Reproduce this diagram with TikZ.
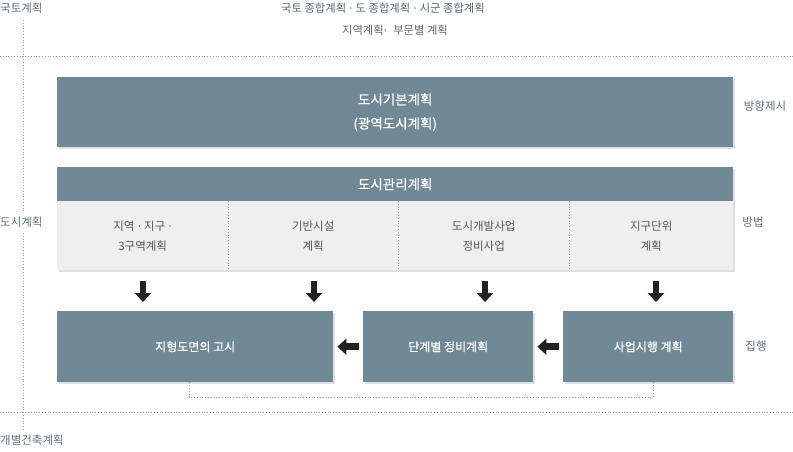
\documentclass[tikz,border=0pt]{standalone}
\usepackage{fontspec}
\setmainfont{Noto Sans CJK KR}
\newfontfamily\boxfont[FakeBold=0.6]{Noto Sans CJK KR}
\newfontfamily\dotfont{DejaVu Sans}
\usetikzlibrary{arrows.meta}
\definecolor{slate}{HTML}{718997}
\definecolor{cellbg}{HTML}{EFEFEF}
\definecolor{labelc}{HTML}{5C7080}
\definecolor{topc}{HTML}{5A6670}
\definecolor{celltext}{HTML}{555555}
\definecolor{dotc}{HTML}{9A9A9A}
\definecolor{arrowc}{HTML}{222222}
\tikzset{
  box/.style={fill=slate, text=white, inner sep=0pt, anchor=north west, align=center, font=\boxfont\fontsize{12}{24}\selectfont},
  bigbox/.style={box, font=\boxfont\fontsize{13.5}{24}\selectfont},
  cell/.style={fill=cellbg, text=celltext, inner sep=0pt, anchor=north west, align=center, minimum height=69pt, font=\fontsize{11.5}{20}\selectfont},
  sidelabel/.style={text=labelc, inner sep=0pt, font=\fontsize{11.5}{14}\selectfont},
  toptext/.style={text=topc, inner sep=0pt, font=\fontsize{11.3}{14}\selectfont},
  dotline/.style={draw=dotc, dotted, line width=0.8pt},
  shadowbox/.style={fill=black!12},
  blockarrow/.style={draw=arrowc, line width=6.5pt, -{Triangle[width=16pt,length=9pt]}},
}
\newcommand\mdot{\hspace{3pt}{\dotfont ·}\hspace{3pt}}
\begin{document}
\begin{tikzpicture}[x=1pt,y=-1pt]
\useasboundingbox (0,0) rectangle (793,451);
% labels left
\node[sidelabel, anchor=west] (kukto) at (0,8) {국토계획};
\node[sidelabel, anchor=west] (dosi) at (0,222) {도시계획};
\node[sidelabel, anchor=west] (gaebyeol) at (0,440) {개별건축계획};
% top texts
\node[toptext] (top1) at (383,8) {국토 종합계획\mdot 도 종합계획\mdot 시군 종합계획};
\node[toptext] (top2) at (395,30) {지역계획{\dotfont ·}\hspace{6pt}부문별 계획};
% dotted lines
\draw[dotline] (0,56) -- (793,56);
\draw[dotline] (0,412) -- (793,412);
\draw[dotline] (23,20) -- (23,211);
\draw[dotline] (23,233) -- (23,430);
% shadows
\fill[shadowbox] (59,79) rectangle (735,149);
\fill[shadowbox] (59,169) rectangle (735,272);
\fill[shadowbox] (59,313) rectangle (335,384);
\fill[shadowbox] (365,313) rectangle (535,384);
\fill[shadowbox] (565,313) rectangle (735,384);
% box 1
\node[bigbox, minimum width=676pt, minimum height=70pt] (basic) at (57,77) {도시기본계획\\(광역도시계획)};
\node[sidelabel] (dir) at (765,106) {방향제시};
% management
\node[bigbox, minimum width=676pt, minimum height=34pt] (manage) at (57,167) {도시관리계획};
\node[cell, minimum width=171pt] (c1) at (57,201) {지역\mdot 지구\mdot\\3구역계획};
\node[cell, minimum width=170pt] (c2) at (228,201) {기반시설\\계획};
\node[cell, minimum width=171pt] (c3) at (398,201) {도시개발사업\\정비사업};
\node[cell, minimum width=164pt] (c4) at (569,201) {지구단위\\계획};
\draw[dotline] (228,201) -- (228,270);
\draw[dotline] (398,201) -- (398,270);
\draw[dotline] (569,201) -- (569,270);
\node[sidelabel] (method) at (753,222) {방법};
% execution boxes
\node[box, minimum width=276pt, minimum height=71pt] (ba) at (57,311) {지형도면의 고시};
\node[box, minimum width=170pt, minimum height=71pt] (bb) at (363,311) {단계별 정비계획};
\node[box, minimum width=170pt, minimum height=71pt] (bc) at (563,311) {사업시행 계획};
\node[sidelabel] (exec) at (756,346) {집행};
% down arrows
\coordinate (d1) at (143,281); \coordinate (e1) at (143,302);
\coordinate (d2) at (314,281); \coordinate (e2) at (314,302);
\coordinate (d3) at (485,281); \coordinate (e3) at (485,302);
\coordinate (d4) at (656,281); \coordinate (e4) at (656,302);
\draw[blockarrow] (d1) -- (e1);
\draw[blockarrow] (d2) -- (e2);
\draw[blockarrow] (d3) -- (e3);
\draw[blockarrow] (d4) -- (e4);
% left arrows
\draw[blockarrow] ([xshift=-4pt]bb.west) -- ([xshift=4pt]ba.east);
\draw[blockarrow] ([xshift=-4pt]bc.west) -- ([xshift=4pt]bb.east);
% bracket
\draw[dotline] (ba.south -| 189,0) -- (189,397) -- (653,397) -- (bc.south -| 653,0);
\end{tikzpicture}
\end{document}
